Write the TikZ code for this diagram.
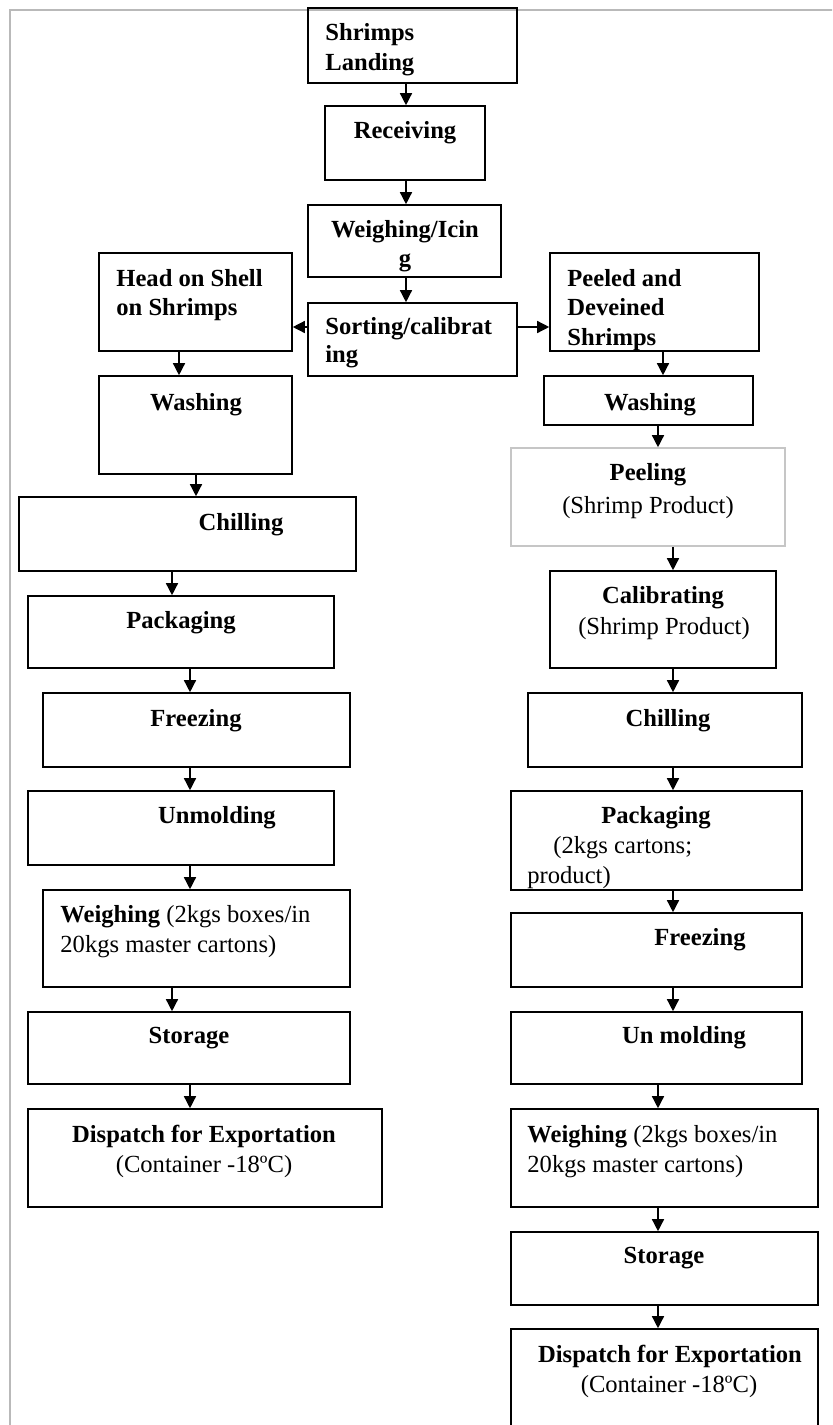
\documentclass[tikz,border=0pt]{standalone}
\usepackage{fontspec}
\setmainfont{Liberation Serif}[BoldFont={Liberation Serif Bold}]
\usetikzlibrary{arrows.meta,fit}
\tikzset{
  box/.style={draw, line width=0.8pt, inner sep=0pt},
  lbl/.style={inner sep=0pt, font=\fontsize{12.3}{15}\selectfont},
  arr/.style={line width=0.7pt, -{Triangle[length=6pt,width=6pt]}}
}
\begin{document}
\begin{tikzpicture}[x=0.5pt, y=-0.5pt]
\useasboundingbox (0,0) rectangle (832,1425);
\clip (0,0) rectangle (832,1425);
\draw[gray!55, line width=0.8pt] (840,10) -- (10,10) -- (10,1440);

% centre line
\node[box, fit={(308,8) (517,83)}] (land) {};
\node[lbl, anchor=base west] (land-a) at (325,40) {\textbf{Shrimps}};
\node[lbl, anchor=base west] (land-b) at (325,70) {\textbf{Landing}};

\node[box, fit={(325,106) (485,180)}] (recv) {};
\node[lbl, anchor=base] (recv-a) at (405,138) {\textbf{Receiving}};

\node[box, fit={(308,205) (501,277)}] (weigh) {};
\node[lbl, anchor=base] (weigh-a) at (405,237) {\textbf{Weighing/Icin}};
\node[lbl, anchor=base] (weigh-b) at (405,266) {\textbf{g}};

\node[box, fit={(308,303) (517,376)}] (sort) {};
\node[lbl, anchor=base west] (sort-a) at (325,334) {\textbf{Sorting/calibrat}};
\node[lbl, anchor=base west] (sort-b) at (325,362) {\textbf{ing}};

\draw[arr] (land.south -| 406,0) -- (recv.north -| 406,0);
\draw[arr] (recv.south -| 406,0) -- (weigh.north -| 406,0);
\draw[arr] (weigh.south -| 406,0) -- (sort.north -| 406,0);

% head on shell on
\node[box, fit={(99,253) (292,351)}] (head) {};
\node[lbl, anchor=base west] (head-a) at (116,286) {\textbf{Head on Shell}};
\node[lbl, anchor=base west] (head-b) at (116,315) {\textbf{on Shrimps}};

\node[box, fit={(99,376) (292,474)}] (washL) {};
\node[lbl, anchor=base] (washL-a) at (196,410) {\textbf{Washing}};

\node[box, fit={(19,497) (356,571)}] (chillL) {};
\node[lbl, anchor=base] (chillL-a) at (241,530) {\textbf{Chilling}};

\node[box, fit={(28,596) (334,668)}] (packL) {};
\node[lbl, anchor=base] (packL-a) at (181,628) {\textbf{Packaging}};

\node[box, fit={(43,693) (350,767)}] (freezeL) {};
\node[lbl, anchor=base] (freezeL-a) at (196,726) {\textbf{Freezing}};

\node[box, fit={(28,791) (334,865)}] (unmL) {};
\node[lbl, anchor=base] (unmL-a) at (217,823) {\textbf{Unmolding}};

\node[box, fit={(43,890) (350,987)}] (weighL) {};
\node[lbl, anchor=base west] (weighL-a) at (60,922) {\textbf{Weighing} (2kgs boxes/in};
\node[lbl, anchor=base west] (weighL-b) at (60,952) {20kgs master cartons)};

\node[box, fit={(28,1012) (350,1084)}] (storeL) {};
\node[lbl, anchor=base] (storeL-a) at (189,1043) {\textbf{Storage}};

\node[box, fit={(28,1109) (382,1207)}] (dispL) {};
\node[lbl, anchor=base] (dispL-a) at (204,1142) {\textbf{Dispatch for Exportation}};
\node[lbl, anchor=base] (dispL-b) at (204,1172) {(Container -18ºC)};

\draw[arr] (sort.west |- 0,327) -- (head.east |- 0,327);
\draw[arr] (head.south -| 179,0) -- (washL.north -| 179,0);
\draw[arr] (washL.south -| 196,0) -- (chillL.north -| 196,0);
\draw[arr] (chillL.south -| 172,0) -- (packL.north -| 172,0);
\draw[arr] (packL.south -| 190,0) -- (freezeL.north -| 190,0);
\draw[arr] (freezeL.south -| 190,0) -- (unmL.north -| 190,0);
\draw[arr] (unmL.south -| 190,0) -- (weighL.north -| 190,0);
\draw[arr] (weighL.south -| 172,0) -- (storeL.north -| 172,0);
\draw[arr] (storeL.south -| 190,0) -- (dispL.north -| 190,0);

% peeled and deveined
\node[box, fit={(550,253) (759,351)}] (peel) {};
\node[lbl, anchor=base west] (peel-a) at (567,286) {\textbf{Peeled and}};
\node[lbl, anchor=base west] (peel-b) at (567,315) {\textbf{Deveined}};
\node[lbl, anchor=base west] (peel-c) at (567,345) {\textbf{Shrimps}};

\node[box, fit={(544,376) (753,425)}] (washR) {};
\node[lbl, anchor=base] (washR-a) at (650,410) {\textbf{Washing}};

\node[box, draw=gray!45, fit={(511,448) (785,546)}] (peeling) {};
\node[lbl, anchor=base] (peeling-a) at (648,480) {\textbf{Peeling}};
\node[lbl, anchor=base] (peeling-b) at (648,513) {(Shrimp Product)};

\node[box, fit={(550,571) (776,668)}] (calib) {};
\node[lbl, anchor=base] (calib-a) at (663,603) {\textbf{Calibrating}};
\node[lbl, anchor=base] (calib-b) at (664,634) {(Shrimp Product)};

\node[box, fit={(528,693) (802,767)}] (chillR) {};
\node[lbl, anchor=base] (chillR-a) at (668,726) {\textbf{Chilling}};

\node[box, fit={(511,791) (802,890)}] (packR) {};
\node[lbl, anchor=base] (packR-a) at (656,823) {\textbf{Packaging}};
\node[lbl, anchor=base west] (packR-b) at (553,853) {(2kgs cartons;};
\node[lbl, anchor=base west] (packR-c) at (527,883) {product)};

\node[box, fit={(511,913) (802,987)}] (freezeR) {};
\node[lbl, anchor=base] (freezeR-a) at (700,945) {\textbf{Freezing}};

\node[box, fit={(511,1012) (802,1084)}] (unmR) {};
\node[lbl, anchor=base] (unmR-a) at (684,1043) {\textbf{Un molding}};

\node[box, fit={(511,1109) (818,1207)}] (weighR) {};
\node[lbl, anchor=base west] (weighR-a) at (527,1142) {\textbf{Weighing} (2kgs boxes/in};
\node[lbl, anchor=base west] (weighR-b) at (527,1172) {20kgs master cartons)};

\node[box, fit={(511,1232) (818,1305)}] (storeR) {};
\node[lbl, anchor=base] (storeR-a) at (664,1263) {\textbf{Storage}};

\node[box, fit={(511,1329) (818,1440)}] (dispR) {};
\node[lbl, anchor=base] (dispR-a) at (670,1362) {\textbf{Dispatch for Exportation}};
\node[lbl, anchor=base] (dispR-b) at (669,1392) {(Container -18ºC)};

\draw[arr] (sort.east |- 0,327) -- (peel.west |- 0,327);
\draw[arr] (peel.south -| 663,0) -- (washR.north -| 663,0);
\draw[arr] (washR.south -| 658,0) -- (peeling.north -| 658,0);
\draw[arr] (peeling.south -| 673,0) -- (calib.north -| 673,0);
\draw[arr] (calib.south -| 673,0) -- (chillR.north -| 673,0);
\draw[arr] (chillR.south -| 673,0) -- (packR.north -| 673,0);
\draw[arr] (packR.south -| 673,0) -- (freezeR.north -| 673,0);
\draw[arr] (freezeR.south -| 673,0) -- (unmR.north -| 673,0);
\draw[arr] (unmR.south -| 658,0) -- (weighR.north -| 658,0);
\draw[arr] (weighR.south -| 658,0) -- (storeR.north -| 658,0);
\draw[arr] (storeR.south -| 658,0) -- (dispR.north -| 658,0);
\end{tikzpicture}
\end{document}
